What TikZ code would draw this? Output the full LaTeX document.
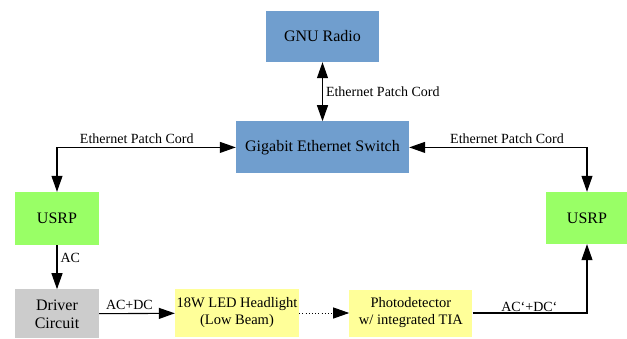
\documentclass[tikz,border=0pt]{standalone}
\usepackage{fontspec}
\setmainfont{Liberation Serif}
\usepackage{xcolor}
\definecolor{RADIOCOLOR}{RGB}{112,158,206}
\definecolor{USRPCOLOR}{RGB}{153,255,102}
\definecolor{DRIVERCOLOR}{RGB}{204,204,204}
\definecolor{OPTICCOLOR}{RGB}{255,255,153}
\usetikzlibrary{arrows.meta,positioning}
\tikzset{
  basic-style/.style = {
    rectangle, fill=#1,
    inner sep=0pt, align=center,
    font=\fontsize{16}{18}\selectfont
  },
  radio-style/.style = {
    basic-style=RADIOCOLOR
  },
  usrp-style/.style = {
    basic-style=USRPCOLOR,
    minimum width=84pt, minimum height=53pt
  },
  driver-style/.style = {
    basic-style=DRIVERCOLOR,
    minimum width=84pt, minimum height=49pt
  },
  optic-style/.style = {
    basic-style=OPTICCOLOR,
    minimum width=124pt, minimum height=48pt,
    font=\fontsize{14.5}{17}\selectfont
  },
  cord-style/.style = {
    font=\fontsize{14}{16}\selectfont, inner sep=3pt
  },
  link-style/.style = {
    draw, line width=1.1pt, >={Triangle[length=16pt,width=11pt]}
  }
}

\begin{document}
\begin{tikzpicture}[x=1pt,y=-1pt]
    \useasboundingbox (0,0) rectangle (627,338);

    %%% network
    \node[radio-style,minimum width=113pt,minimum height=51pt] (gnu) at (322.5,36.5) {GNU Radio};
    \node[radio-style,minimum width=173pt,minimum height=52pt,below=59pt of gnu] (switch) {Gigabit Ethernet Switch};

    %%% transmitter side
    \node[usrp-style] (usrpTx) at (57,218.5) {USRP};
    \node[driver-style,below=44pt of usrpTx] (driver) {Driver\\Circuit};
    \node[optic-style] (led) at (237,313) {18W LED Headlight\\(Low Beam)};
    \node[optic-style,minimum width=123pt,minimum height=47pt,right=50pt of led] (pd) {Photodetector\\w/ integrated TIA};

    %%% receiver side
    \node[usrp-style,minimum width=82pt,minimum height=52pt] (usrpRx) at (587,218) {USRP};

    %%% arrows
    % gnu radio to switch
    \draw[link-style,<->] (gnu) -- (switch) node[cord-style,midway,right] {Ethernet Patch Cord};
    % switch to usrps
    \draw[link-style,<->] (switch.west) -| (usrpTx.north) node[cord-style,pos=0.277,above] {Ethernet Patch Cord};
    \draw[link-style,<->] (switch.east) -| (usrpRx.north) node[cord-style,pos=0.275,above] {Ethernet Patch Cord};
    % signal chain
    \draw[link-style,->] (usrpTx) -- (driver) node[cord-style,pos=0.28,right] {AC};
    \draw[link-style,->] (driver) -- (led) node[cord-style,pos=0.4,above] {AC+DC};
    \draw[link-style,->,line width=0.9pt,dash pattern=on 1pt off 2.2pt] (led) -- (pd);
    \draw[link-style,->] (pd.east) -| (usrpRx.south) node[cord-style,pos=0.248,above,inner sep=1pt] {AC‘+DC‘};
\end{tikzpicture}
\end{document}
